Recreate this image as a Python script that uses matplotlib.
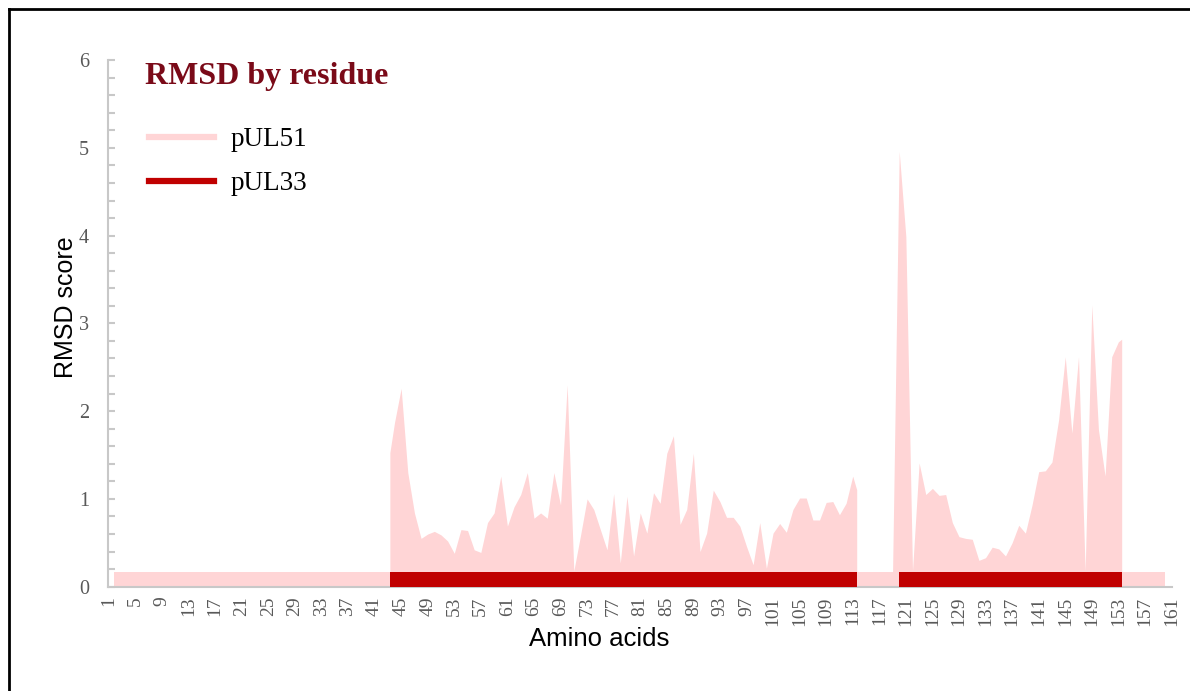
import numpy as np
import matplotlib.pyplot as plt
from matplotlib.lines import Line2D
from matplotlib.ticker import MultipleLocator

# pUL51 per-residue RMSD, first aligned block (residues 43-114)
res_a = list(range(43, 115))
rmsd_a = [1.38, 1.87, 2.26, 1.30, 0.84, 0.55, 0.60, 0.63, 0.59, 0.52,
          0.38, 0.65, 0.64, 0.42, 0.39, 0.73, 0.84, 1.26, 0.69, 0.91,
          1.05, 1.30, 0.78, 0.84, 0.78, 1.30, 0.93, 2.30, 0.18, 0.58,
          1.00, 0.88, 0.65, 0.42, 1.06, 0.27, 1.03, 0.35, 0.84, 0.61,
          1.07, 0.95, 1.52, 1.72, 0.71, 0.88, 1.52, 0.40, 0.61, 1.10,
          0.97, 0.79, 0.79, 0.69, 0.46, 0.25, 0.73, 0.21, 0.61, 0.72,
          0.62, 0.88, 1.01, 1.01, 0.76, 0.76, 0.96, 0.97, 0.82, 0.95,
          1.26, 1.00]

# second aligned block (residues 119-154)
res_b = list(range(119, 155))
rmsd_b = [0.17, 4.96, 3.99, 0.18, 1.41, 1.05, 1.12, 1.04, 1.05, 0.73,
          0.57, 0.55, 0.54, 0.30, 0.33, 0.45, 0.43, 0.35, 0.50, 0.70,
          0.61, 0.93, 1.31, 1.32, 1.42, 1.90, 2.62, 1.75, 2.62, 0.18,
          3.21, 1.79, 1.26, 2.62, 2.79, 2.85]

# residue ranges
pul51_full = (1.75, 160.0)
pul51_spans = [(43.3, 113.6), (119.0, 153.5)]
pul33_spans = [(43.3, 113.6), (119.9, 153.5)]
band_height = 0.17

tick_residues = list(range(1, 162, 4))

PINK = "#ffd5d6"
DARK_RED = "#c00000"
GREY_TXT = "#595959"
GREY_AX = "#c8c8c8"


def span_points(res, vals, lo, hi):
    res = np.asarray(res, float)
    vals = np.asarray(vals, float)
    inner = res[(res > lo) & (res < hi)]
    xs = np.concatenate([[lo], inner, [hi]])
    return xs, np.interp(xs, res, vals)


fig = plt.figure(figsize=(11.9, 6.91), dpi=100)
ax = fig.add_axes([0.091, 0.151, 0.894, 0.762])

# baseline band for pUL51
ax.fill_between(pul51_full, 0, band_height, color=PINK, lw=0, zorder=1)
for (lo, hi), res, vals in zip(pul51_spans, [res_a, res_b], [rmsd_a, rmsd_b]):
    xs, ys = span_points(res, vals, lo, hi)
    ax.fill_between(xs, 0, ys, color=PINK, lw=0, zorder=2)
for lo, hi in pul33_spans:
    ax.fill_between([lo, hi], 0, band_height, color=DARK_RED, lw=0, zorder=3)

ax.set_xlim(0.9, 161.1)
ax.set_ylim(0, 6)

ax.set_xticks(tick_residues)
ax.set_xticklabels([str(t) for t in tick_residues], rotation=90,
                   family="Liberation Serif", fontsize=14, color=GREY_TXT)
ax.tick_params(axis="x", length=0, pad=7)

ax.yaxis.set_major_locator(MultipleLocator(1))
ax.yaxis.set_minor_locator(MultipleLocator(0.2))
ax.tick_params(axis="y", which="both", direction="in", length=5, width=1.5,
               color=GREY_AX, pad=14, labelsize=14.5, labelcolor=GREY_TXT)
for lab in ax.get_yticklabels():
    lab.set_family("Liberation Serif")

for side in ["top", "right"]:
    ax.spines[side].set_visible(False)
for side in ["left", "bottom"]:
    ax.spines[side].set_color(GREY_AX)
    ax.spines[side].set_linewidth(1.5)

ax.set_xlabel("Amino acids", family="Liberation Sans", fontsize=18.5, va="center")
ax.xaxis.set_label_coords(0.461, -0.100)
ax.set_ylabel("RMSD score", family="Liberation Sans", fontsize=18, va="center")
ax.yaxis.set_label_coords(-0.040, 0.53)

ax.text(0.0345, 0.955, "RMSD by residue", transform=ax.transAxes,
        family="Liberation Serif", fontweight="bold", fontsize=23,
        color="#7a0a18", va="baseline", ha="left")

handles = [Line2D([], [], color=PINK, lw=4.5),
           Line2D([], [], color=DARK_RED, lw=4.5)]
leg = ax.legend(handles, ["pUL51", "pUL33"], loc="upper left",
                bbox_to_anchor=(0.028, 0.893), frameon=False,
                prop={"family": "Liberation Serif", "size": 19.5},
                handlelength=2.4, handletextpad=0.6, labelspacing=0.7,
                borderaxespad=0)

# outer frame lines (top and left)
fig.add_artist(Line2D([8.5 / 1190, 1], [1 - 9 / 691] * 2,
                      transform=fig.transFigure, color="black", lw=2))
fig.add_artist(Line2D([8.5 / 1190] * 2, [0, 1 - 9 / 691],
                      transform=fig.transFigure, color="black", lw=2))

fig.savefig("out.png", dpi=100)
